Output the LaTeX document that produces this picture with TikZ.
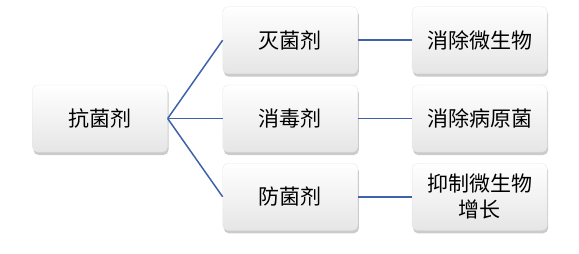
\documentclass[tikz,border=0pt]{standalone}
\usepackage{fontspec}
\setmainfont{Noto Sans CJK SC}
\usepackage{tikz}
\usetikzlibrary{positioning, shadows}

\definecolor{linkblue}{RGB}{64,98,170}

\begin{document}
\begin{tikzpicture}[
    box/.style={rectangle, rounded corners=5pt, draw=gray!20, line width=0.3pt,
                top color=white, middle color=white, bottom color=gray!20,
                minimum width=135pt, minimum height=67pt,
                align=center, font=\fontsize{21}{26}\selectfont,
                drop shadow={shadow xshift=1pt, shadow yshift=-3pt,
                             opacity=0.45, fill=gray!90}},
    link/.style={draw=linkblue, line width=1.5pt},
    node distance=11pt
]
\useasboundingbox (0,0) rectangle (579pt,-254pt);

\node[box] (agent) at (100pt,-118.5pt) {抗菌剂};

\node[box, right=55pt of agent] (disinfect) {消毒剂};
\node[box, above=11pt of disinfect] (sterilize) {灭菌剂};
\node[box, below=11pt of disinfect] (preserve) {防菌剂};

\node[box, right=54pt of sterilize] (killmicro) {消除微生物};
\node[box, right=54pt of disinfect] (killpath) {消除病原菌};
\node[box, right=54pt of preserve] (inhibit) {抑制微生物\\增长};

\draw[link] (agent.east) -- (sterilize.west);
\draw[link] (agent.east) -- (disinfect.west);
\draw[link] (agent.east) -- (preserve.west);
\draw[link] (sterilize) -- (killmicro);
\draw[link] (disinfect) -- (killpath);
\draw[link] (preserve)  -- (inhibit);

\end{tikzpicture}
\end{document}
